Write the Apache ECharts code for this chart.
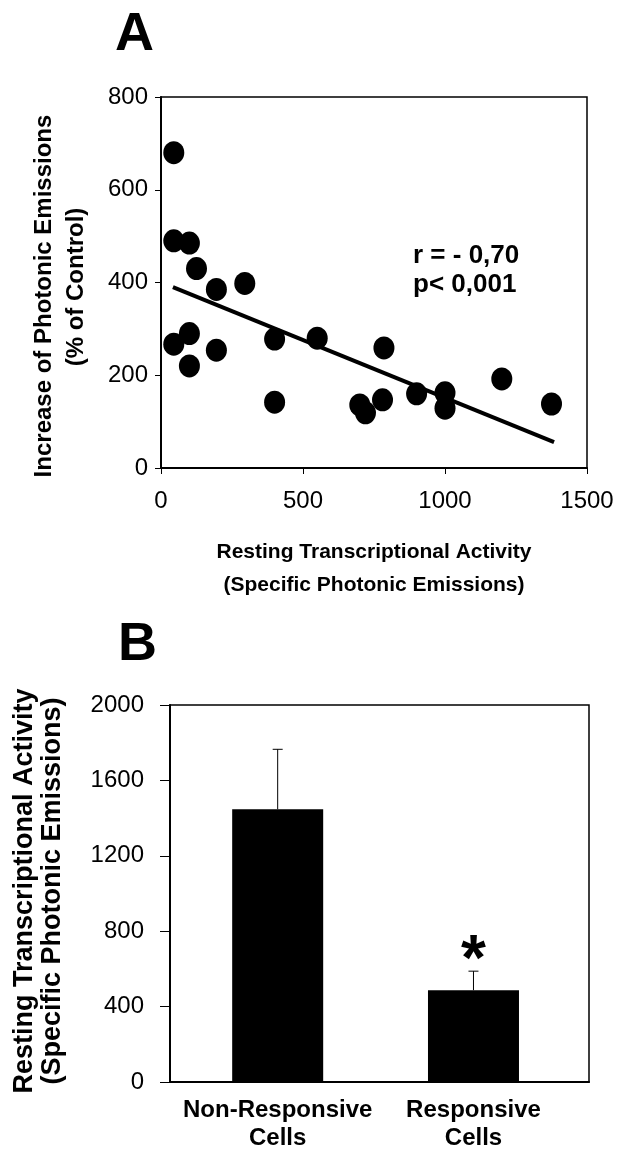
<!DOCTYPE html>
<html>
<head>
<meta charset="utf-8">
<title>Photonic emissions</title>
<script src="https://cdn.jsdelivr.net/npm/echarts@6/dist/echarts.min.js"></script>
<style>
html, body { margin: 0; padding: 0; background: #fff; }
#chart { width: 617px; height: 1153px; }
</style>
</head>
<body>
<div id="chart"></div>
<script>
// panel A - resting activity vs increase of photonic emissions
var restingActivity = [45, 45, 100, 125, 195, 295, 45, 100, 100, 195, 400, 400, 550, 785, 700, 720, 780, 900, 1000, 1000, 1200, 1375];
var emissionIncrease = [680, 490, 485, 430, 385, 398, 267, 290, 220, 254, 278, 142, 280, 259, 136, 119, 147, 160, 162, 129, 192, 138];
var fitX = [42, 1384];
var fitY = [390, 56];
var xTicksA = [0, 500, 1000, 1500];
var yTicksA = [0, 200, 400, 600, 800];
var statsText = ['r = - 0,70', 'p< 0,001'];

// panel B - mean resting activity per group
var groups = ['Non-Responsive\nCells', 'Responsive\nCells'];
var means = [1447, 487];
var errUpper = [1765, 588];
var significance = ['', '*'];
var yTicksB = [0, 400, 800, 1200, 1600, 2000];

var font = '"Liberation Sans", Arial, sans-serif';
var chart = echarts.init(document.getElementById('chart'));

function plain(v) { return String(v); }

function renderError(params, api) {
    var x = api.value(0);
    var top = api.coord([x, api.value(2)]);
    var base = api.coord([x, api.value(1)]);
    var children = [
        {type: 'line', shape: {x1: base[0], y1: base[1], x2: top[0], y2: top[1]}, style: {stroke: '#000', lineWidth: 1}},
        {type: 'line', shape: {x1: top[0] - 5, y1: top[1], x2: top[0] + 5, y2: top[1]}, style: {stroke: '#000', lineWidth: 1}}
    ];
    var s = significance[params.dataIndex];
    if (s) {
        children.push({
            type: 'text',
            style: {text: s, x: top[0], y: top[1] + 23, align: 'center', verticalAlign: 'bottom',
                fontSize: 64, fontWeight: 'bold', fontFamily: font, fill: '#000'}
        });
    }
    return {type: 'group', children: children};
}

chart.setOption({
    animation: false,
    backgroundColor: '#fff',
    textStyle: {fontFamily: font, color: '#000'},
    grid: [
        {left: 161, top: 97, width: 426, height: 371, show: true, borderColor: '#000', borderWidth: 1.5},
        {left: 170, top: 705, width: 419, height: 377, show: true, borderColor: '#000', borderWidth: 1.5}
    ],
    xAxis: [
        {
            gridIndex: 0, type: 'value',
            min: xTicksA[0], max: xTicksA[xTicksA.length - 1], interval: xTicksA[1] - xTicksA[0],
            axisLine: {lineStyle: {color: '#000', width: 2}},
            axisTick: {show: true, length: 6, lineStyle: {color: '#000'}},
            axisLabel: {margin: 21, fontSize: 24, color: '#000', fontFamily: font, formatter: plain},
            splitLine: {show: false},
            name: 'Resting Transcriptional Activity\n(Specific Photonic Emissions)',
            nameLocation: 'middle', nameGap: 68,
            nameTextStyle: {fontSize: 21, fontWeight: 'bold', lineHeight: 33, color: '#000', fontFamily: font}
        },
        {
            gridIndex: 1, type: 'value', min: 0.45, max: 2.59,
            axisLine: {lineStyle: {color: '#000', width: 2}},
            axisTick: {show: false},
            axisLabel: {
                customValues: [1, 2], margin: 14, fontSize: 24, fontWeight: 'bold', lineHeight: 28,
                color: '#000', fontFamily: font,
                formatter: function (v) { return groups[Math.round(v) - 1] || ''; }
            },
            splitLine: {show: false}
        }
    ],
    yAxis: [
        {
            gridIndex: 0, type: 'value',
            min: yTicksA[0], max: yTicksA[yTicksA.length - 1], interval: yTicksA[1] - yTicksA[0],
            axisLine: {show: true, lineStyle: {color: '#000', width: 2}},
            axisTick: {show: true, length: 6, lineStyle: {color: '#000'}},
            axisLabel: {margin: 13, fontSize: 24, color: '#000', fontFamily: font, formatter: plain},
            splitLine: {show: false}
        },
        {
            gridIndex: 1, type: 'value',
            min: yTicksB[0], max: yTicksB[yTicksB.length - 1], interval: yTicksB[1] - yTicksB[0],
            axisLine: {show: true, lineStyle: {color: '#000', width: 2}},
            axisTick: {show: true, length: 10, lineStyle: {color: '#000'}},
            axisLabel: {margin: 26, fontSize: 24, color: '#000', fontFamily: font, formatter: plain},
            splitLine: {show: false}
        }
    ],
    series: [
        {
            type: 'line', xAxisIndex: 0, yAxisIndex: 0,
            data: fitX.map(function (x, i) { return [x, fitY[i]]; }),
            symbol: 'none', lineStyle: {color: '#000', width: 4}
        },
        {
            type: 'scatter', xAxisIndex: 0, yAxisIndex: 0,
            data: restingActivity.map(function (x, i) { return [x, emissionIncrease[i]]; }),
            symbol: 'circle', symbolSize: [21, 23], itemStyle: {color: '#000', opacity: 1}
        },
        {
            type: 'bar', xAxisIndex: 1, yAxisIndex: 1, barWidth: 91,
            data: means.map(function (m, i) { return [i + 1, m]; }),
            itemStyle: {color: '#000'}
        },
        {
            type: 'custom', xAxisIndex: 1, yAxisIndex: 1,
            data: means.map(function (m, i) { return [i + 1, m, errUpper[i]]; }),
            encode: {x: 0, y: [1, 2]},
            renderItem: renderError
        }
    ],
    graphic: [
        {type: 'text', left: 115, top: 8, style: {text: 'A', fontSize: 54, fontWeight: 'bold', fontFamily: font, fill: '#000'}},
        {type: 'text', left: 118, top: 618, style: {text: 'B', fontSize: 54, fontWeight: 'bold', fontFamily: font, fill: '#000'}},
        {type: 'text', x: 413, y: 241, style: {text: statsText.join('\n'), fontSize: 26, fontWeight: 'bold', lineHeight: 29,
            fontFamily: font, fill: '#000', verticalAlign: 'top'}},
        {type: 'text', x: 44, y: 296, rotation: Math.PI / 2,
            style: {text: 'Increase of Photonic Emissions', fontSize: 24, fontWeight: 'bold', fontFamily: font, fill: '#000',
                align: 'center', verticalAlign: 'middle'}},
        {type: 'text', x: 76, y: 287, rotation: Math.PI / 2,
            style: {text: '(% of Control)', fontSize: 24, fontWeight: 'bold', fontFamily: font, fill: '#000',
                align: 'center', verticalAlign: 'middle'}},
        {type: 'text', x: 25, y: 891, rotation: Math.PI / 2,
            style: {text: 'Resting Transcriptional Activity', fontSize: 27, fontWeight: 'bold', fontFamily: font, fill: '#000',
                align: 'center', verticalAlign: 'middle'}},
        {type: 'text', x: 53, y: 891, rotation: Math.PI / 2,
            style: {text: '(Specific Photonic Emissions)', fontSize: 27, fontWeight: 'bold', fontFamily: font, fill: '#000',
                align: 'center', verticalAlign: 'middle'}}
    ]
});
</script>
</body>
</html>
